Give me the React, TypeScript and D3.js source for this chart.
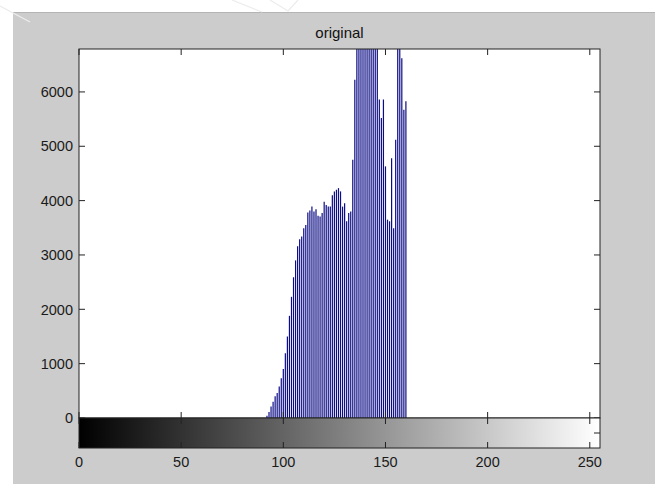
import React from 'react';
import * as d3 from 'd3';

const title = 'original';
const levels = [
  92, 93, 94, 95, 96, 97, 98, 99, 100, 101, 102, 103, 104, 105, 106, 107, 108, 109, 110,
  111, 112, 113, 114, 115, 116, 117, 118, 119, 120, 121, 122, 123, 124, 125, 126, 127, 128,
  129, 130, 131, 132, 133, 134, 135, 136, 137, 138, 139, 140, 141, 142, 143, 144, 145, 146,
  147, 148, 149, 150, 151, 152, 153, 154, 155, 156, 157, 158, 159, 160,
];
const counts = [
  40, 110, 210, 300, 400, 460, 580, 730, 900, 1190, 1500, 1880, 2230, 2590, 2900, 3160, 3290, 3340, 3490,
  3550, 3780, 3820, 3890, 3800, 3840, 3720, 3710, 3770, 3980, 3920, 3890, 3890, 4100, 4170, 4200, 4230, 4170,
  3890, 3950, 3620, 3770, 3800, 4750, 6225, 7400, 8100, 8600, 7900, 8800, 9200, 8300, 8700, 7600, 7100, 6950,
  5860, 5520, 5860, 4630, 3650, 3620, 4780, 3490, 5120, 7050, 6900, 6620, 5670, 5830,
];
const xTicks = [0, 50, 100, 150, 200, 250];
const yTicks = [0, 1000, 2000, 3000, 4000, 5000, 6000];
const xDomain = [0, 255];
const yDomain = [0, 6790];

export default function App() {
  const W = 655;
  const H = 484;
  const left = 79;
  const right = 600;
  const top = 49;
  const bottom = 418;
  const cbBottom = 448;
  const x = d3.scaleLinear().domain(xDomain).range([left, right]);
  const y = d3.scaleLinear().domain(yDomain).range([bottom, top]);
  const font = '"Liberation Sans", Arial, sans-serif';
  const axisColor = '#222';
  const tickLen = 6;

  return (
    <svg width={W} height={H} style={{ position: 'absolute', left: 0, top: 0 }} xmlns="http://www.w3.org/2000/svg">
      <defs>
        <clipPath id="plotClip">
          <rect x={left} y={top} width={right - left} height={bottom - top} />
        </clipPath>
        <linearGradient id="grayRamp" x1="0" x2="1" y1="0" y2="0">
          <stop offset="0%" stopColor="#000" />
          <stop offset="100%" stopColor="#fff" />
        </linearGradient>
      </defs>
      <rect x={0} y={0} width={W} height={H} fill="#fff" />
      <rect x={13} y={12} width={W - 13} height={H - 12} fill="#cccccc" />
      <line x1={13} x2={W} y1={12.5} y2={12.5} stroke="#b4b4b4" />
      {/* faint watermark strokes */}
      <g stroke="#ececec" strokeWidth={1.2} fill="none">
        <path d="M0,6 L30,22" />
        <path d="M232,0 L262,12" />
        <path d="M270,0 L288,11 L298,0" />
      </g>

      {/* plot background */}
      <rect x={left} y={top} width={right - left} height={bottom - top} fill="#fff" />

      {/* stems */}
      <g clipPath="url(#plotClip)">
        {levels.map((lv, i) => (
          <line
            key={lv}
            x1={x(lv)}
            x2={x(lv)}
            y1={y(0)}
            y2={y(counts[i])}
            stroke="#0c0c86"
            strokeWidth={1.2}
          />
        ))}
      </g>

      {/* plot frame */}
      <rect x={left} y={top} width={right - left} height={bottom - top} fill="none" stroke={axisColor} strokeWidth={1} />

      {/* y ticks */}
      {yTicks.map((t) => (
        <g key={t}>
          <line x1={left} x2={left + tickLen} y1={y(t)} y2={y(t)} stroke={axisColor} />
          <line x1={right} x2={right - tickLen} y1={y(t)} y2={y(t)} stroke={axisColor} />
          <text x={left - 6} y={y(t)} dy="0.36em" textAnchor="end" fontFamily={font} fontSize={14.5} fill="#1a1a1a">
            {t}
          </text>
        </g>
      ))}

      {/* x ticks on hist axes */}
      {xTicks.map((t) => (
        <g key={t}>
          <line x1={x(t)} x2={x(t)} y1={top} y2={top + tickLen} stroke={axisColor} />
          <line x1={x(t)} x2={x(t)} y1={bottom} y2={bottom - tickLen} stroke={axisColor} />
        </g>
      ))}

      {/* colorbar */}
      <rect x={left} y={bottom} width={right - left} height={cbBottom - bottom} fill="url(#grayRamp)" />
      <rect x={left} y={bottom} width={right - left} height={cbBottom - bottom} fill="none" stroke={axisColor} />
      {xTicks.map((t) => (
        <g key={'cb' + t}>
          <line x1={x(t)} x2={x(t)} y1={bottom} y2={bottom + tickLen} stroke={axisColor} />
          <line x1={x(t)} x2={x(t)} y1={cbBottom} y2={cbBottom - tickLen} stroke={axisColor} />
          <text x={x(t)} y={cbBottom + 19} textAnchor="middle" fontFamily={font} fontSize={14.5} fill="#1a1a1a">
            {t}
          </text>
        </g>
      ))}
      <line x1={right} x2={right - tickLen} y1={(bottom + cbBottom) / 2} y2={(bottom + cbBottom) / 2} stroke={axisColor} />

      {/* title */}
      <text x={(left + right) / 2} y={38} textAnchor="middle" fontFamily={font} fontSize={15} fill="#111">
        {title}
      </text>
    </svg>
  );
}
